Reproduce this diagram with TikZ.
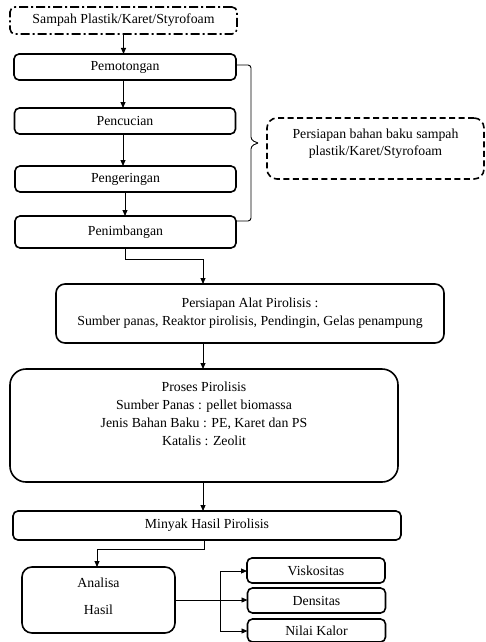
\documentclass[tikz,border=0pt]{standalone}
\usepackage{fontspec}
\setmainfont{Liberation Serif}
\usetikzlibrary{arrows.meta}
\begin{document}
\begin{tikzpicture}[x=1pt,y=-1pt,
  box/.style={draw, line width=1.6pt, rounded corners=5pt, outer sep=0pt, inner sep=0pt, align=center, font=\fontsize{13.8}{18}\selectfont},
  txt/.style={font=\fontsize{13.8}{18}\selectfont, align=center, inner sep=0pt},
  arr/.style={line width=0.9pt, -{Triangle[length=6pt,width=5pt]}},
  ln/.style={line width=0.9pt}]
\useasboundingbox (0,0) rectangle (485,642);
% top box
\node[box, dash pattern=on 9pt off 3pt on 2pt off 3pt, minimum width=227, minimum height=27] (src) at (123.5,20.5) {Sampah Plastik/Karet/Styrofoam};
\node[box, minimum width=222, minimum height=26] (pem) at (125,67) {Pemotongan};
\node[box, minimum width=221, minimum height=26] (pen) at (125,121) {Pencucian};
\node[box, minimum width=221, minimum height=26] (peng) at (125.5,179) {Pengeringan};
\node[box, minimum width=221, minimum height=32] (pnb) at (125.5,232) {Penimbangan};
\node[box, dash pattern=on 6pt off 3.5pt, rounded corners=10pt, minimum width=217, minimum height=61] (prep) at (375.5,148.5) {};
\node[txt, font=\fontsize{13.8}{17}\selectfont] (preptxt) at (375.5,143.5) {Persiapan bahan baku sampah\\plastik/Karet/Styrofoam};
\node[box, rounded corners=9pt, minimum width=388, minimum height=59] (alat) at (250,313.5) {Persiapan Alat Pirolisis :\\Sumber panas, Reaktor pirolisis, Pendingin, Gelas penampung};
\node[box, rounded corners=16pt, minimum width=388, minimum height=113] (pro) at (204,425.5) {};
\node[txt] (protxt) at (204,414) {Proses Pirolisis\\Sumber Panas : pellet biomassa\\Jenis Bahan Baku : PE, Karet dan PS\\Katalis : Zeolit};
\node[box, minimum width=388, minimum height=29] (min) at (207,525.5) {Minyak Hasil Pirolisis};
\node[box, rounded corners=10pt, minimum width=153, minimum height=66] (ana) at (98.5,600) {};
\node[txt] (anatxt) at (98.5,596.5) {Analisa\\[9pt]Hasil};
\node[box, minimum width=138, minimum height=25] (vis) at (316,570.5) {Viskositas};
\node[box, minimum width=138, minimum height=25] (den) at (316.5,600.5) {Densitas};
\node[box, minimum width=138, minimum height=23] (nil) at (316.5,630.5) {Nilai Kalor};
% arrows
\draw[arr] (src.south) -- (src.south |- pem.north);
\draw[arr] (pem.south -| 123,0) -- (123,0 |- pen.north);
\draw[arr] (pen.south -| 123,0) -- (123,0 |- peng.north);
\draw[arr] (peng.south -| 125,0) -- (125,0 |- pnb.north);
\coordinate (c1) at (125,259);
\coordinate (c2) at (203,259);
\draw[arr] (pnb.south -| c1) -- (c1) -- (c2) -- (c2 |- alat.north);
\draw[arr] (alat.south -| 203,0) -- (203,0 |- pro.north);
\draw[arr] (pro.south -| 203,0) -- (203,0 |- min.north);
\coordinate (c3) at (204,549);
\coordinate (c4) at (97,549);
\draw[arr] (min.south -| c3) -- (c3) -- (c4) -- (c4 |- ana.north);
\coordinate (v1) at (220,571);
\coordinate (v2) at (220,631);
\draw[arr] (ana.east) -- (ana.east -| den.west);
\draw[arr] (v1) -- (v1 -| vis.west);
\draw[arr] (v1) -- (v2) -- (v2 -| nil.west);
% brace
\coordinate (b0) at (pem.east |- 0,65);
\coordinate (b1) at (251,65);
\coordinate (bt) at (258,143);
\coordinate (b2) at (251,221);
\coordinate (b3) at (pnb.east |- 0,221);
\draw[ln, rounded corners=3pt] (b0) -- (b1) -- (251,140) -- (bt);
\draw[ln, rounded corners=3pt] (bt) -- (251,146) -- (b2) -- (b3);
\end{tikzpicture}
\end{document}
